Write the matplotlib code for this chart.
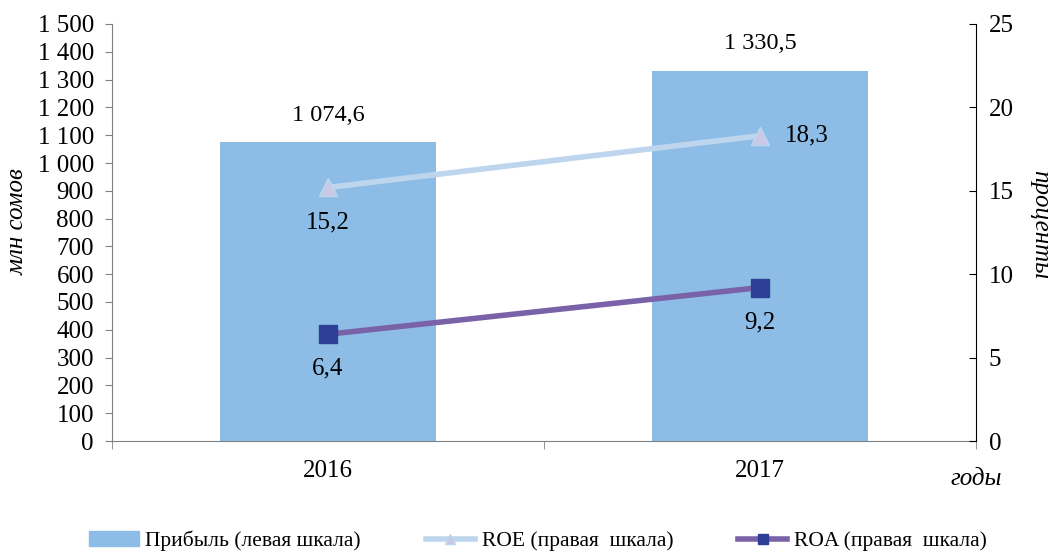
import matplotlib
matplotlib.use("Agg")
import matplotlib.pyplot as plt
from matplotlib.ticker import FuncFormatter, FixedLocator

plt.rcParams['font.family'] = ['Liberation Serif', 'DejaVu Serif']

years = ['2016', '2017']
profit = [1074.6, 1330.5]
roe = [15.2, 18.3]
roa = [6.4, 9.2]
profit_labels = ['1 074,6', '1 330,5']
roe_labels = ['15,2', '18,3']
roa_labels = ['6,4', '9,2']

bar_color = '#8DBDE6'
roe_line = '#BDD6EE'
roe_marker = '#C9C9E6'
roa_line = '#7A62A8'
roa_marker = '#2E3F98'
axis_color = '#808080'
fs = 18

fig = plt.figure(figsize=(10.55, 5.52), dpi=100)
ax = fig.add_axes([112 / 1055, 1 - 441 / 552, 864 / 1055, 417 / 552])
ax2 = ax.twinx()

x = range(len(years))
ax.bar(x, profit, width=0.5, color=bar_color, zorder=1)
ax.set_xlim(-0.5, 1.5)
ax.set_ylim(0, 1500)
ax.set_yticks(range(0, 1501, 100))
ax.yaxis.set_major_formatter(FuncFormatter(lambda v, p: '{:,.0f}'.format(v).replace(',', ' ')))
ax.set_xticks(list(x))
ax.set_xticklabels(years)
ax.xaxis.set_minor_locator(FixedLocator([-0.5, 0.5, 1.5]))
ax.tick_params(axis='x', which='major', length=0, labelsize=fs, pad=14)
ax.tick_params(axis='x', which='minor', length=6, color=axis_color, direction='out')
ax.tick_params(axis='y', labelsize=fs, length=5, color=axis_color, direction='out', pad=8)

for i, v in enumerate(profit):
    ax.annotate(profit_labels[i], (i, v), xytext=(0, 12), textcoords='offset points',
                ha='center', va='bottom', fontsize=17.5)

ax2.plot(x, roe, color=roe_line, lw=4, marker='^', ms=13, mfc=roe_marker,
         mec=roe_line, zorder=3, label='ROE (правая  шкала)')
ax2.plot(x, roa, color=roa_line, lw=4, marker='s', ms=13, mfc=roa_marker,
         mec=roa_marker, zorder=3, label='ROA (правая  шкала)')
ax2.set_ylim(0, 25)
ax2.set_yticks(range(0, 26, 5))
ax2.tick_params(axis='y', labelsize=fs, length=5, color='black', direction='in', pad=9)

ax2.annotate(roe_labels[0], (0, roe[0]), xytext=(0, -17), textcoords='offset points',
             ha='center', va='top', fontsize=fs)
ax2.annotate(roe_labels[1], (1, roe[1]), xytext=(18, 0), textcoords='offset points',
             ha='left', va='center', fontsize=fs)
for i, v in enumerate(roa):
    ax2.annotate(roa_labels[i], (i, v), xytext=(0, -17), textcoords='offset points',
                 ha='center', va='top', fontsize=fs)

for a in (ax, ax2):
    a.spines['top'].set_visible(False)
ax.spines['left'].set_color(axis_color)
ax.spines['bottom'].set_color(axis_color)
ax.spines['right'].set_visible(False)
ax2.spines['left'].set_visible(False)
ax2.spines['bottom'].set_visible(False)
ax2.spines['right'].set_color('black')

ax.set_ylabel('млн сомов', fontsize=fs, style='italic', va='center')
ax.yaxis.set_label_coords((18 - 112) / 864, (441 - 222) / 417)
ax2.set_ylabel('проценты', fontsize=fs, style='italic', rotation=270, va='center')
ax2.yaxis.set_label_coords((1040 - 112) / 864, (441 - 225) / 417)
ax.text(1.0, -0.09, 'годы', transform=ax.transAxes, ha='center', va='center',
        fontsize=fs, style='italic')

handles = [plt.Rectangle((0, 0), 1, 1, color=bar_color)]
h2, l2 = ax2.get_legend_handles_labels()
fig.legend(handles + h2, ['Прибыль (левая шкала)'] + l2, loc='center',
           bbox_to_anchor=(538 / 1055, 1 - 541 / 552), ncol=3, frameon=False,
           fontsize=15.5, handlelength=2.3, handletextpad=0.3, columnspacing=3.0,
           markerscale=0.6)

fig.savefig('out.png', dpi=100)
